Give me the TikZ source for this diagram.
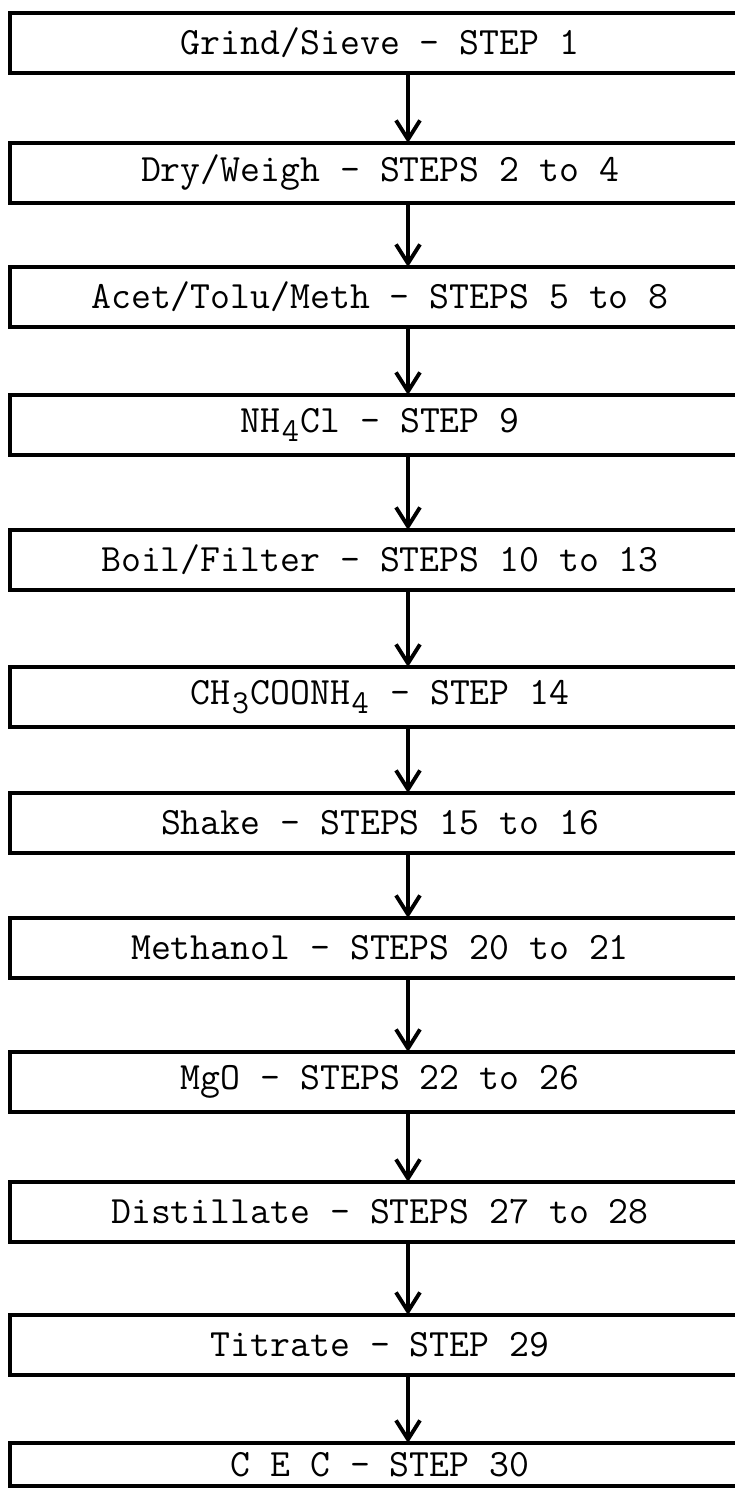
\documentclass[tikz,border=0pt]{standalone}
\usepackage{fontspec}
\usetikzlibrary{arrows.meta,positioning}
\newcommand{\lowr}[1]{\raisebox{-0.5ex}{\makebox[0.525em]{\fontsize{19}{19}\selectfont#1}}}
\tikzset{
  stepbox/.style={draw,line width=2.3pt,outer sep=0pt,minimum width=14.8cm,minimum height=1.2cm,inner sep=0pt,
    font=\fontsize{22}{24}\selectfont\ttfamily\addfontfeature{FakeBold=0.8}},
  ar/.style={-{Straight Barb[length=0.38cm,width=0.48cm,line width=2.2pt]},line width=1.9pt},
}
\begin{document}
\begin{tikzpicture}
\useasboundingbox (0,0) rectangle (14.7,-29.76);
\node[stepbox,anchor=north west] (grind) at (0.2,-0.26) {Grind/Sieve - STEP 1};
\node[stepbox,below=1.40cm of grind] (dry) {Dry/Weigh - STEPS 2 to 4};
\node[stepbox,below=1.28cm of dry] (acet) {Acet/Tolu/Meth - STEPS 5 to 8};
\node[stepbox,below=1.36cm of acet] (nhcl) {NH\lowr{4}Cl - STEP 9};
\node[stepbox,below=1.50cm of nhcl] (boil) {Boil/Filter - STEPS 10 to 13};
\node[stepbox,below=1.54cm of boil] (acetate) {CH\lowr{3}COONH\lowr{4} - STEP 14};
\node[stepbox,below=1.32cm of acetate] (shake) {Shake - STEPS 15 to 16};
\node[stepbox,below=1.30cm of shake] (meth) {Methanol - STEPS 20 to 21};
\node[stepbox,below=1.48cm of meth] (mgo) {MgO - STEPS 22 to 26};
\node[stepbox,below=1.40cm of mgo] (dist) {Distillate - STEPS 27 to 28};
\node[stepbox,below=1.46cm of dist] (titr) {Titrate - STEP 29};
% last box runs off the page
\node[stepbox,minimum height=0.86cm,below=1.36cm of titr] (cec) {C E C - STEP 30};
\foreach \a/\b in {grind/dry,dry/acet,acet/nhcl,nhcl/boil,boil/acetate,acetate/shake,
  shake/meth,meth/mgo,mgo/dist,dist/titr,titr/cec}
  \draw[ar] ([xshift=0.56cm]\a.south) -- ([xshift=0.56cm]\b.north);
\end{tikzpicture}
\end{document}
